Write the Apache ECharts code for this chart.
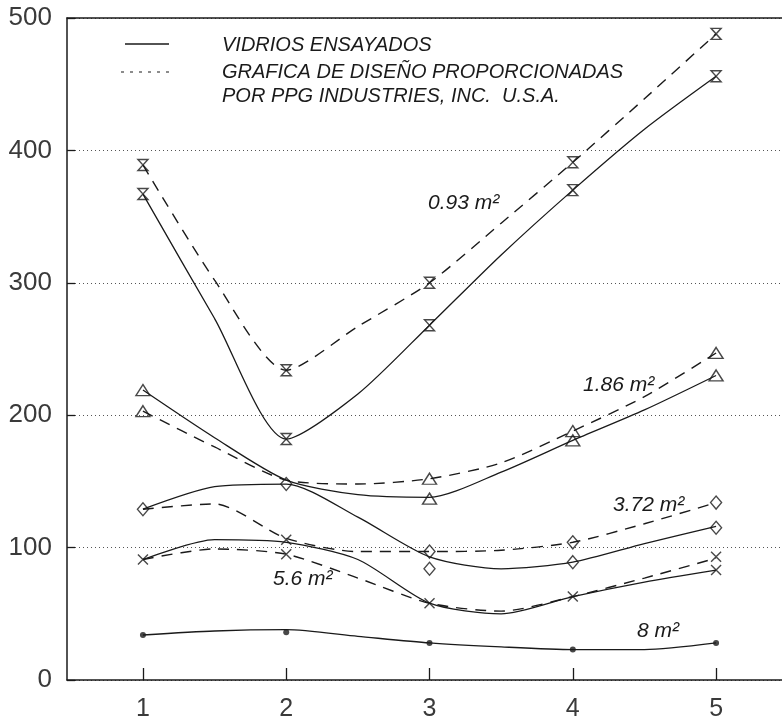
<!DOCTYPE html>
<html>
<head>
<meta charset="utf-8">
<script src="https://cdn.jsdelivr.net/npm/echarts@6/dist/echarts.min.js"></script>
<style>
html,body{margin:0;padding:0;background:#fff;}
#chart{width:782px;height:723px;}
</style>
</head>
<body>
<div id="chart"></div>
<script>
// ---- data ----
const xTickValues = [1, 2, 3, 4, 5];
const yTickValues = [0, 100, 200, 300, 400, 500];
const curveX = [1, 1.5, 2, 2.5, 3, 3.5, 4, 4.5, 5];
const pointX = [1, 2, 3, 4, 5];

// curves (solid = VIDRIOS ENSAYADOS, dashed = PPG design chart)
const tested093 = [367, 273, 182, 216, 268, 321, 370, 416, 456];
const design093 = [389, 302, 234, 267, 300, 345, 391, 439, 488];
const tested186 = [219, 183, 151, 140, 138, 157, 181, 204, 230];
const design186 = [203, 176, 151, 148, 152, 164, 188, 214, 247];
const tested372 = [129, 146, 148, 123, 93, 84, 89, 103, 116];
const design372 = [129, 133, 107, 97, 97, 98, 104, 118, 134];
const tested56 = [91, 106, 104, 91, 58, 50, 63, 74, 83];
const design56 = [91, 99, 95, 77, 58, 52, 63, 77, 92];
const tested8 = [34, 37, 38, 33, 28, 25, 23, 23, 28];

// plotted markers
const tested093Pts = [367, 182, 268, 370, 456];
const design093Pts = [389, 234, 300, 391, 488];
const tested186Pts = [219, null, 137, 181, 230];
const design186Pts = [203, null, 152, 188, 247];
const tested372Pts = [129, 148, 84, 89, 115];
const design372Pts = [null, null, 97, 104, 134];
const tested56Pts = [91, 106, 58, 63, 83];
const design56Pts = [null, 95, null, null, 93];
const tested8Pts = [34, 36, 28, 23, 28];

const legendTexts = ['VIDRIOS ENSAYADOS', 'GRAFICA DE DISEÑO PROPORCIONADAS', 'POR PPG INDUSTRIES, INC.  U.S.A.'];
const areaLabels = ['0.93 m²', '1.86 m²', '3.72 m²', '5.6 m²', '8 m²'];

// ---- build ----
const INK = '#1a1a1a';
const pair = (xs, ys) => xs.map((x, i) => [x, ys[i]]).filter(p => p[1] !== null);

const SYM_HOUR = 'path://M0,0L10,0L0,10L10,10Z';
const SYM_X = 'path://M0,0L10,10M10,0L0,10';

function curve(name, ys, dashed) {
  return {
    type: 'line', name, data: pair(curveX, ys), smooth: 0.25, symbol: 'none',
    lineStyle: { color: INK, width: dashed ? 1.4 : 1.3, type: dashed ? [11, 8] : 'solid' },
    z: 3, silent: true
  };
}
function marks(name, ys, symbol, size, filled) {
  return {
    type: 'scatter', name, data: pair(pointX, ys), symbol, symbolSize: size,
    itemStyle: { color: filled ? INK : 'rgba(0,0,0,0)', borderColor: INK, borderWidth: filled ? 0 : 1.4 },
    z: 4, silent: true
  };
}

const series = [
  curve('t093', tested093, false), curve('d093', design093, true),
  curve('t186', tested186, false), curve('d186', design186, true),
  curve('t372', tested372, false), curve('d372', design372, true),
  curve('t56', tested56, false), curve('d56', design56, true),
  curve('t8', tested8, false),
  marks('mt093', tested093Pts, SYM_HOUR, [10, 11]), marks('md093', design093Pts, SYM_HOUR, [10, 11]),
  marks('mt186', tested186Pts, 'triangle', [14, 11]), marks('md186', design186Pts, 'triangle', [14, 11]),
  marks('mt372', tested372Pts, 'diamond', [11, 13]), marks('md372', design372Pts, 'diamond', [11, 13]),
  marks('mt56', tested56Pts, SYM_X, [10, 10]), marks('md56', design56Pts, SYM_X, [10, 10]),
  marks('mt8', tested8Pts, 'circle', 6, true)
];

const textFont = 'italic 20px "Liberation Sans", "DejaVu Sans", sans-serif';
const labelFont = 'italic 21px "Liberation Sans", "DejaVu Sans", sans-serif';
const graphic = [
  { type: 'line', shape: { x1: 125, y1: 44, x2: 169, y2: 44 }, style: { stroke: INK, lineWidth: 1.3 } },
  { type: 'line', shape: { x1: 121, y1: 72, x2: 169, y2: 72 }, style: { stroke: INK, lineWidth: 1.2, lineDash: [3, 6] } },
  { type: 'text', x: 222, y: 45, style: { text: legendTexts[0], font: textFont, fill: INK, verticalAlign: 'middle' } },
  { type: 'text', x: 222, y: 72, style: { text: legendTexts[1], font: textFont, fill: INK, verticalAlign: 'middle' } },
  { type: 'text', x: 222, y: 96, style: { text: legendTexts[2], font: textFont, fill: INK, verticalAlign: 'middle' } },
  { type: 'text', x: 428, y: 203, style: { text: areaLabels[0], font: labelFont, fill: INK, verticalAlign: 'middle' } },
  { type: 'text', x: 583, y: 385, style: { text: areaLabels[1], font: labelFont, fill: INK, verticalAlign: 'middle' } },
  { type: 'text', x: 613, y: 505, style: { text: areaLabels[2], font: labelFont, fill: INK, verticalAlign: 'middle' } },
  { type: 'text', x: 273, y: 579, style: { text: areaLabels[3], font: labelFont, fill: INK, verticalAlign: 'middle' } },
  { type: 'text', x: 637, y: 631, style: { text: areaLabels[4], font: labelFont, fill: INK, verticalAlign: 'middle' } }
];

const chart = echarts.init(document.getElementById('chart'), null, { renderer: 'canvas' });
chart.setOption({
  backgroundColor: '#ffffff',
  animation: false,
  grid: { left: 67, right: 0, top: 18, bottom: 43, containLabel: false },
  xAxis: [{
    type: 'value', min: 0.47, max: 5.46,
    axisLine: { show: true, lineStyle: { color: INK, width: 1.5 } },
    axisTick: { show: true, inside: true, length: 12, customValues: xTickValues, lineStyle: { color: INK, width: 1.3 } },
    axisLabel: { customValues: xTickValues, margin: 17, fontSize: 25, color: '#3a3a3a', fontFamily: '"Liberation Sans", sans-serif' },
    splitLine: { show: false }
  }, {
    type: 'value', position: 'top', min: 0.47, max: 5.46,
    axisLine: { show: true, lineStyle: { color: INK, width: 1.5 } },
    axisTick: { show: false }, axisLabel: { show: false }, splitLine: { show: false }
  }],
  yAxis: {
    type: 'value', min: yTickValues[0], max: yTickValues[yTickValues.length - 1], interval: 100,
    axisLine: { show: true, lineStyle: { color: INK, width: 1.5 } },
    axisTick: { show: true, inside: true, length: 8, lineStyle: { color: INK, width: 1.3 } },
    axisLabel: { margin: 15, fontSize: 26, color: '#3a3a3a', fontFamily: '"Liberation Sans", sans-serif' },
    splitLine: { show: true, lineStyle: { color: '#555', width: 1, type: [1, 3] } }
  },
  series,
  graphic
});
</script>
</body>
</html>
